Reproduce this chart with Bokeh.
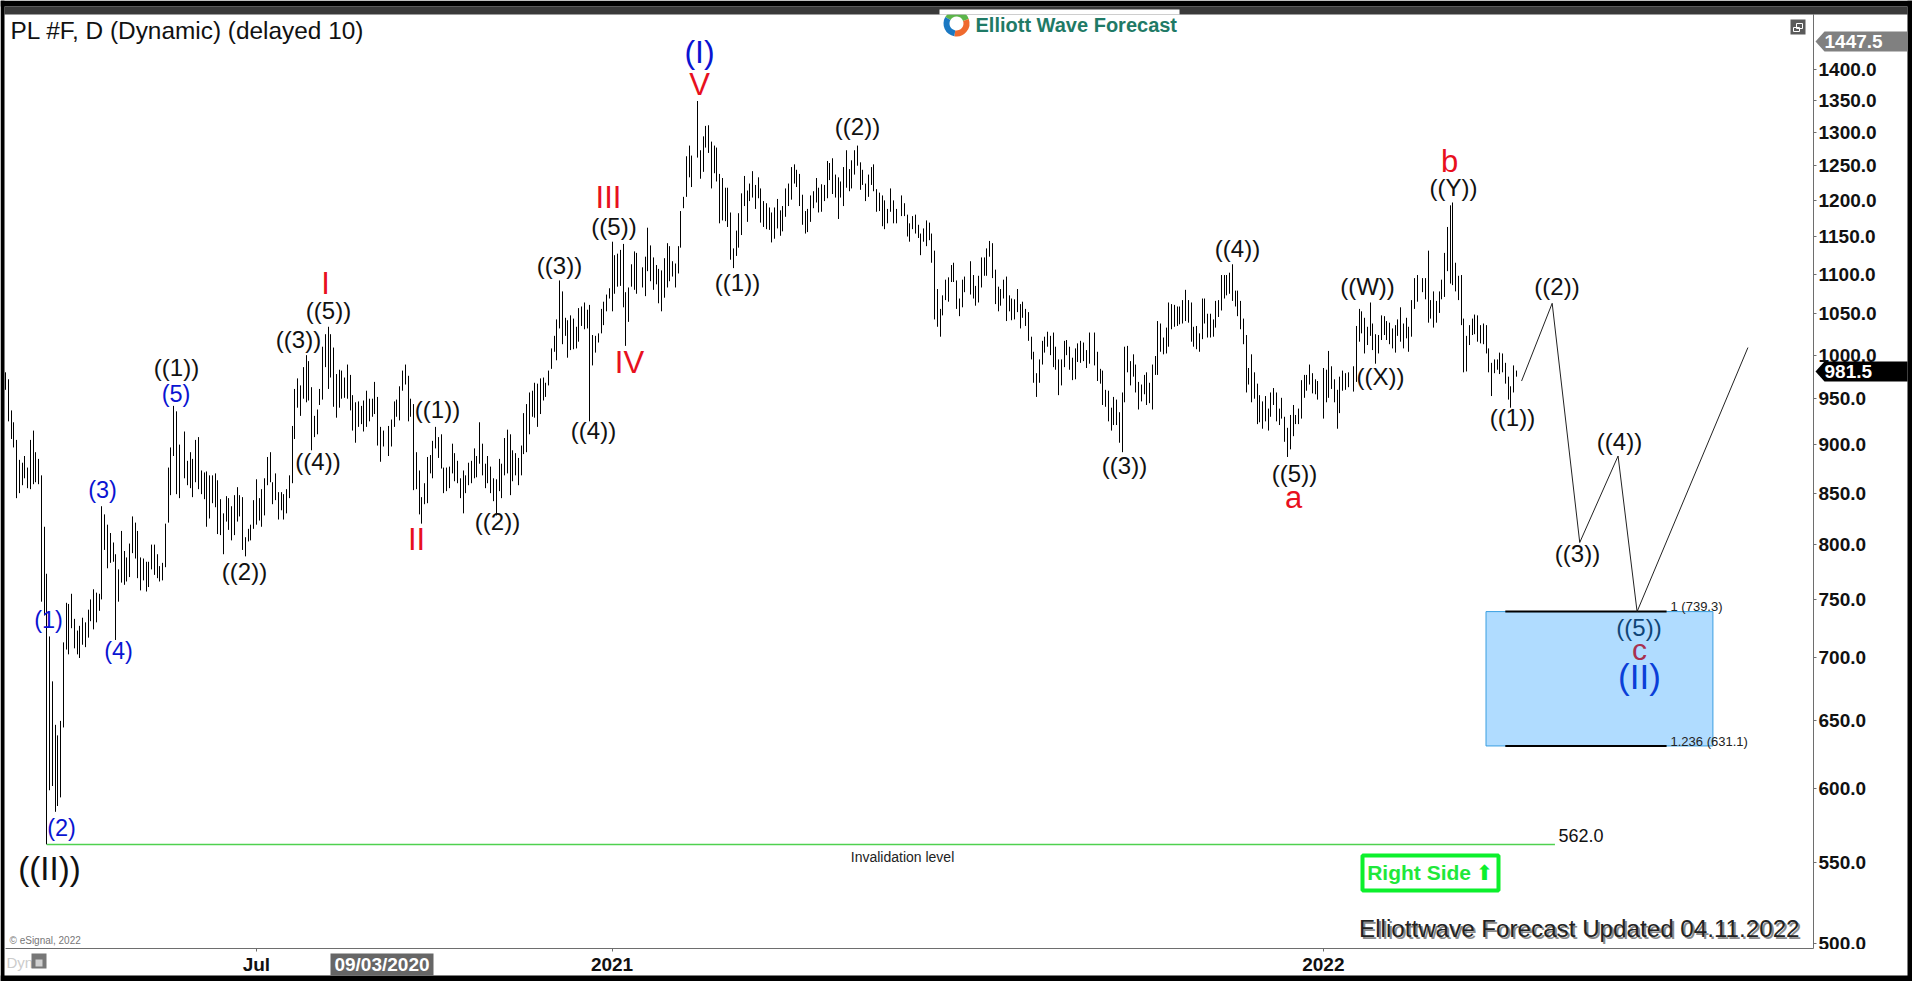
from math import exp, nan, pi
from bokeh.plotting import figure
from bokeh.embed import file_html
from bokeh.resources import INLINE
from bokeh.core.properties import value
from bokeh.models import (Range1d, FixedTicker, PrintfTickFormatter, PolyAnnotation, Label)

# ---------- daily high / low of PL #F ----------
high_a = [980,972,937,924,905,884,881,888,876,905,915,892,885,868,817,773,718,681,647,639,650,713,747,746,755,733,723,727,734,730,741,750,759,756,755,837,829,819,811,802,791,777,813,794,788,801,827,821,813,788,787,784,784,800,800,791,780,783,820,876,897,942,936,900,nan,914,883,892,885,905,908,873,871,872,868,868,870,863]
low_a = [960,925,906,897,845,850,858,865,855,854,859,861,859,748,736,562,599,602,584,588,594,645,707,703,725,708,703,700,711,709,717,731,724,730,740,750,795,778,783,784,715,748,765,763,766,770,792,787,769,758,767,757,761,777,772,769,766,767,779,821,848,888,849,845,nan,865,858,855,846,861,854,849,844,817,825,840,836,810]
high_b = [844,830,847,845,837,848,856,848,846,807,815,819,843,864,845,854,865,887,892,861,870,851,851,849,854,868,920,961,973,965,986,1000,993,963,931,938,961,1010,1025,1034,1025,1009,978,983,982,974,989,977,954,946,947,942,948,959,950,950,969,952,919,915,nan,920,927,947,949,964,982,989,976,950,944,892,873,846,860,887,889,904,919,908]
low_b = [809,791,822,814,804,809,822,827,795,789,803,804,815,819,823,817,828,858,861,839,843,824,833,824,830,845,860,906,940,931,950,946,948,894,908,911,943,949,986,961,974,941,929,940,950,951,950,937,915,902,919,922,914,919,925,930,933,899,882,898,nan,888,898,919,930,926,959,966,925,930,853,854,829,820,839,840,870,865,896,886]
high_c = [911,876,876,877,901,891,883,865,873,868,881,883,896,888,924,901,880,888,877,865,864,885,880,907,916,911,894,891,886,899,934,944,957,959,968,967,973,974,968,982,1008,1023,1043,1092,1078,1045,1042,1048,1044,1034,1057,1059,1064,1055,1061,1024,1023,1026,1056,1065,1074,1082,1143,1125,1127,1132,1140,1077,1083,1113,1130,1128,nan,1109,1123,1162,1138,1122,1112,1107]
low_c = [875,850,852,855,870,862,860,845,830,850,858,860,865,866,880,868,855,860,850,842,828,852,845,868,870,848,862,868,858,868,890,892,911,930,929,919,933,948,952,965,984,1004,994,1032,1013,1023,997,1006,1007,1008,1016,1035,1031,1032,925,988,1003,1015,1026,1036,1053,1069,1053,1075,1084,1085,1058,1011,1040,1084,1080,1075,nan,1083,1072,1104,1091,1080,1087,1063]
high_d = [1105,1121,1141,1137,1117,1114,1137,1185,1205,1264,1280,1265,nan,1349,1273,1294,1310,1311,1286,1280,1277,1238,1232,1218,1218,1183,1134,1158,1182,1210,1235,1214,1224,1242,1222,1233,1217,1199,1196,1190,1183,1190,1202,1186,1192,1217,1224,1248,1252,1244,1238,1208,1185,1188,1207,1213,1232,1218,1223,1222,1257,1254,1261,1237,1233,1227,1248,1273,1245,1258,1273,1280,1255,1244,1224,1237,1248,1252,1216]
low_d = [1053,1070,1083,1091,1097,1083,1101,1135,1189,1205,1233,1219,nan,1262,1231,1241,1277,1269,1217,1239,1227,1168,1172,1171,1163,1119,1108,1124,1135,1152,1192,1170,1199,1204,1188,1203,1169,1163,1160,1159,1142,1147,1161,1151,1157,1177,1192,1201,1224,1219,1192,1166,1154,1156,1170,1189,1197,1183,1184,1199,1203,1229,1209,1204,1174,1204,1192,1218,1213,1217,1237,1250,1215,1222,1199,1205,1222,1213,1184]
high_e = [1211,1207,1200,1188,1217,1200,1188,nan,1207,1196,1180,1168,1178,1180,1166,1154,1161,1172,1169,1154,1131,1081,1056,1073,1093,1096,1112,1115,1092,1069,1093,1097,nan,1117,1099,1085,1098,1122,1122,1134,1144,1141,1106,1084,1081,1093,1097,1073,1069,1068,1081,1062,1065,1056,1052,1022,1004,979,995,1017,1022,1028,1023,1027,1010,995,995,1017,1018,1010,997,1008,1014,1017,1015,1006,1027,nan,1027,1004]
low_e = [1185,1164,1160,1168,1184,1168,1168,nan,1178,1178,1150,1143,1160,1154,1148,1125,1143,1137,1145,1115,1043,1034,1022,1048,1067,1065,1090,1090,1056,1047,1058,1077,nan,1074,1069,1060,1064,1083,1098,1098,1123,1095,1062,1053,1060,1069,1041,1053,1042,1043,1052,1032,1045,1035,1017,995,968,952,968,989,1003,1010,1000,986,983,954,965,986,1000,983,971,972,992,991,993,985,990,nan,988,970]
high_f = [984,982,960,959,940,952,949,935,957,1010,1011,993,1001,989,969,966,977,980,968,989,999,1041,1038,1021,1033,1064,1062,1061,1059,1059,1067,1080,1067,1064,1034,1035,1026,1069,1069,1050,1050,1043,1066,1067,1099,1099,1099,1102,1113,1079,1079,1066,1044,1024,985,1001,980,967,954,947,953,939,957,962,957,939,951,930,918,932,943,932,939,971,977,977,989,979,972,970,nan]
low_f = [967,943,941,925,915,921,921,902,892,946,980,965,975,957,938,947,955,943,945,938,977,977,1004,1001,1002,1010,1031,1034,1035,1037,1038,1041,1039,1016,1010,1007,1004,1019,1038,1021,1021,1022,1033,1046,1054,1069,1073,1075,1066,1059,1047,1031,1013,957,966,946,950,922,924,917,925,915,930,943,925,921,928,903,887,895,909,922,922,928,951,959,966,956,955,949,nan]
high_g = [985,983,1005,987,972,960,975,982,979,980,nan,987,1035,1056,1053,1045,1034,1064,1038,1025,1024,1048,1047,1041,1039,1032,1036,1043,1058,1038,1045,1034,1067,1095,1099,nan,1095,1095,1131,1067,1078,1066,1078,1093,1128,1163,1193,1197,1115,1098,1099,1044,1023,1036,1044,1049,1048,1036,1038,1036,1008,991,995,995,1003,1002,991,975,964,988,982]
low_g = [928,946,951,961,946,917,934,959,960,963,nan,958,969,1016,1026,1002,1012,1023,1006,990,1002,1018,1024,1018,1013,1008,1003,1023,1016,1008,1020,1004,1022,1056,1065,nan,1077,1068,1039,1044,1033,1039,1051,1068,1071,1104,1088,1086,1078,1067,1036,980,981,1012,1024,1025,1016,1014,1013,1002,980,953,979,983,978,980,967,949,940,957,975]

bar_high = high_a + high_b + high_c + high_d + high_e + high_f + high_g
bar_low = low_a + low_b + low_c + low_d + low_e + low_f + low_g

forecast_bar = [549.9, 561.0, 571.0, 584.9, 591.8, 632.0]
forecast_price = [970, 1063, 802, 888, 739.3, 1009]

y_ticks = [500,550,600,650,700,750,800,850,900,950,1000,1050,1100,1150,1200,1250,1300,1350,1400]
x_tick_bars = [91, 220, 478]
x_tick_labels = ["Jul", "2021", "2022"]

invalidation_level = 562.0
invalidation_bars = [15, 562]
fib_top = 739.3
fib_bottom = 631.1
fib_box_bars = [537.0, 619.3]
fib_line_bars = [544.0, 602.5]
last_price = 981.5
high_price = 1447.5

TITLE = "PL #F, D (Dynamic) (delayed 10)"
FOOTER = "Elliottwave Forecast Updated 04.11.2022"

wave_black = ["((1))","((2))","((3))","((4))","((5))","((1))","((2))","((3))","((4))","((5))","((1))","((2))","((3))","((4))","((5))","((W))","((X))","((Y))","((1))","((2))","((3))","((4))"]
wave_blue = ["(1)","(2)","(3)","(4)","(5)"]
wave_red = ["I","II","III","IV","V","a","b"]

# ---------- layout in page pixels ----------
K = 2.757
def X(px): return (px - 5) / K
def Y(py): return 1400 * exp(-(py - 69) / 849)

# every bar sits on a whole pixel column so that it stays a crisp 1px line
bar_x = [X(round(5 + K * i)) for i in range(len(bar_high))]

black_pos = [(176,366.5),(244,570.5),(298,338.5),(317.5,460.5),(328,309.5),(437,408.5),(497,520.5),(559,264.5),(593,429.5),(613.5,225.5),
             (737,281.5),(857,125.5),(1124,464.5),(1237,247.5),(1294,472.5),(1367,285.5),(1380,375.5),(1453,186.5),(1512,416.5),(1556.5,285.5),(1577,552.5),(1619,440.5)]
blue_pos = [(48,619),(61,827),(102,489),(118,650),(175.5,393)]
red_pos = [(325,283),(416,539),(608,197),(629,362),(699,84),(1293,497),(1449,161)]

p = figure(width=1912, height=981, output_backend="svg", toolbar_location=None,
           x_range=Range1d(X(0), X(1912)), y_range=Range1d(Y(981), Y(0)),
           y_axis_type="log", y_axis_location="right", min_border=0,
           min_border_left=0, min_border_top=0, min_border_bottom=0, min_border_right=0)
p.grid.visible = False
p.outline_line_color = None
p.background_fill_color = "white"
p.border_fill_color = "white"

for ax, tick in ((p.yaxis[0], y_ticks), (p.xaxis[0], x_tick_bars)):
    ax.ticker = FixedTicker(ticks=tick)
    ax.axis_line_color = "#6e6e6e"
    ax.major_tick_line_color = "#6e6e6e"
    ax.minor_tick_line_color = None
    ax.major_tick_in = 0
    ax.major_tick_out = 3
    ax.major_label_text_font = "Liberation Sans"
    ax.major_label_text_font_size = "19px"
    ax.major_label_text_font_style = "bold"
    ax.major_label_text_color = "#111111"
    ax.major_label_standoff = 2
p.yaxis[0].formatter = PrintfTickFormatter(format="%.1f")
p.xaxis[0].major_label_overrides = dict(zip(x_tick_bars, x_tick_labels))
p.yaxis[0].fixed_location = X(1813)
p.xaxis[0].fixed_location = Y(948)
p.yaxis[0].bounds = (Y(948), Y(14))
p.xaxis[0].bounds = (X(5), X(1813))

def T(txts, xs, ys, size, color, align="center", style="normal", font="Liberation Sans"):
    p.text(xs, ys, text=txts, text_font=value(font), text_font_size=size, text_color=color,
           text_align=align, text_baseline="middle", text_font_style=style)

def T1(txt, px, py, size, color, align="center", style="normal", font="Liberation Sans"):
    T([txt], [X(px)], [Y(py)], size, color, align, style, font)

def box(px0, px1, py0, py1, color):
    p.add_layout(PolyAnnotation(xs=[px0, px1, px1, px0], ys=[py0, py0, py1, py1], xs_units="canvas", ys_units="canvas",
                                fill_color=color, fill_alpha=1, line_color=None, level="overlay"))

def lab(txt, px, py, size, color, align="left", style="normal"):
    p.add_layout(Label(x=px, y=py, x_units="canvas", y_units="canvas", text=txt, text_font="Liberation Sans", text_font_size=size,
                       text_color=color, text_align=align, text_baseline="middle", text_font_style=style, level="overlay"))

# target box
p.quad(left=[fib_box_bars[0]], right=[fib_box_bars[1]], top=[fib_top], bottom=[fib_bottom],
       fill_color="#b0dcff", line_color="#3a9ee0", line_width=1)
p.segment(fib_line_bars[:1] * 2, [fib_top, fib_bottom], fib_line_bars[1:] * 2, [fib_top, fib_bottom],
          line_color="black", line_width=2)

# bars
p.segment(bar_x, bar_high, bar_x, bar_low, line_color="black", line_width=1)

# forecast and invalidation
p.line(forecast_bar, forecast_price, line_color="#222222", line_width=1)
p.segment([invalidation_bars[0]], [invalidation_level], [invalidation_bars[1]], [invalidation_level],
          line_color="#4fd14f", line_width=1.5)

# wave labels
T(wave_black, [X(a) for a, b in black_pos], [Y(b) for a, b in black_pos], "24px", "#111111")
T(wave_blue, [X(a) for a, b in blue_pos], [Y(b) for a, b in blue_pos], "23.5px", "#0a14d2")
T(wave_red, [X(a) for a, b in red_pos], [Y(b) for a, b in red_pos], "31px", "#e8101e")
T1("((II))", 49, 868, "33px", "#111111")
T1("(I)", 699, 51, "32px", "#0a14d2")
T1("((5))", 1638.5, 627, "24px", "#0f4577")
T1("c", 1639, 649, "30px", "#a8304f")
T1("(II)", 1639, 676, "35px", "#0b3fd8")

T1("1 (739.3)", 1670, 606, "13px", "#222222", "left")
T1("1.236 (631.1)", 1670, 741, "13px", "#222222", "left")
T1("562.0", 1558, 835, "18px", "#111111", "left")
T1("Invalidation level", 902, 856, "14px", "#222222")

# title and footers
T1(TITLE, 10, 30, "24.4px", "#111111", "left")
T1(FOOTER, 1360.5, 930, "24.2px", "#8a8a8a", "left")
T1(FOOTER, 1358.5, 928, "24.2px", "#222222", "left")
T1("\u00a9 eSignal, 2022", 9, 940, "10px", "#777777", "left")

# right side stamp
p.quad(left=[X(1362)], right=[X(1498)], top=[Y(855)], bottom=[Y(890)], fill_alpha=0,
       line_color="#0cf02c", line_width=4)
T1("Right Side", 1366.7, 872, "21px", "#1ee83a", "left", "bold")
T1("\u2b06", 1484, 872, "21px", "#0cf02c", "center", "normal", "DejaVu Sans")

# restore icon
p.quad(left=[X(1790)], right=[X(1805)], top=[Y(19)], bottom=[Y(34)], fill_color="#5a5a5a", line_color=None)
p.quad(left=[X(1796), X(1793)], right=[X(1802), X(1799)], top=[Y(23), Y(27)], bottom=[Y(28), Y(31)],
       fill_alpha=0, line_color="white", line_width=1)

# cut of the axis labels below the price scale
box(1814.5, 1907, 948.5, 975, "white")

# window frame
box(0, 1912, 0, 6, "black")
box(4, 1907, 6, 14, "#3a3a3a")
box(0, 4, 0, 981, "black")
box(1907, 1912, 0, 981, "black")
box(0, 1912, 975, 981, "black")
box(939, 1179, 9, 14, "white")

# logo
for start, end, col in ((20, 150, "#5cb54a"), (-100, 20, "#ef6a2e"), (150, 260, "#1a78c2")):
    p.annular_wedge([X(956)], [Y(23)], inner_radius=7, outer_radius=13, inner_radius_units="screen", outer_radius_units="screen",
                    start_angle=[start*pi/180], end_angle=[end*pi/180], fill_color=col, line_color=None, level="overlay")
lab("Elliott Wave Forecast", 975, 24, "20px", "#1f7a66", "left", "bold")

# price flags
for py, txt, color in ((41, f"{high_price:.1f}", "#808080"), (371, f"{last_price:.1f}", "black")):
    p.add_layout(PolyAnnotation(xs=[1815, 1824, 1907, 1907, 1824], ys=[py, py-10, py-10, py+10, py+10],
                                xs_units="canvas", ys_units="canvas",
                                fill_color=color, fill_alpha=1, line_color=None, level="overlay"))
    lab(txt, 1824, py, "19px", "white", "left", "bold")

# x axis cursor date and status bar
box(330, 433, 953, 975, "#666666")
lab("09/03/2020", 381.5, 964, "19px", "white", "center", "bold")
lab("Dyn", 6, 962, "15px", "#cccccc")
box(31, 46, 953, 968, "#777777")
box(35, 42, 959, 966, "#d0d0d0")

open("out.html", "w").write(file_html(p, INLINE))
